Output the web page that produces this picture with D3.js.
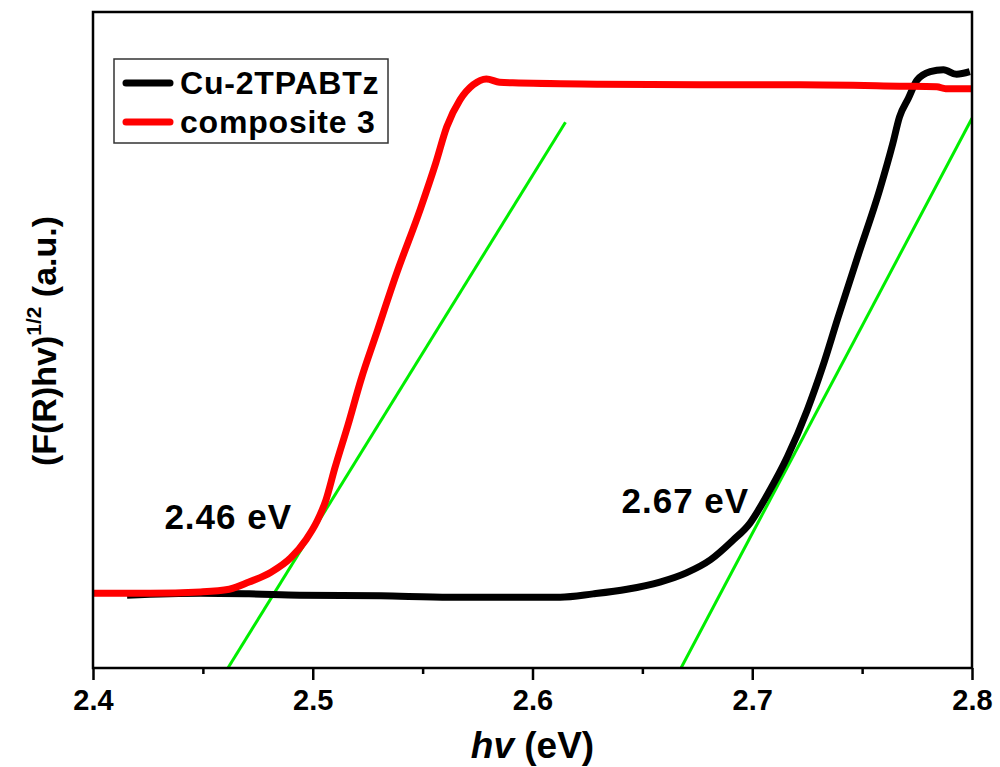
<!DOCTYPE html>
<html><head><meta charset="utf-8">
<script src="https://cdn.jsdelivr.net/npm/d3@7/dist/d3.min.js"></script>
<style>body{margin:0;background:#fff}svg{display:block}text{font-family:Arial,"Liberation Sans",sans-serif;font-weight:bold;fill:#000}</style>
</head><body><svg id="c" width="1000" height="767"></svg>
<script>
// Data (hv in eV, intensity in arbitrary units)
const cuHv  = [2.4155,2.449,2.471,2.494,2.531,2.5625,2.6126,2.6276,2.643,2.658,2.670,2.681,2.691,2.699,2.707,2.716,2.725,2.732,2.739,2.748,2.758,2.764,2.767,2.771,2.775,2.781,2.787,2.793,2.799];
const cuVal = [11.1,11.4,11.3,11.1,11.0,10.8,10.8,11.3,12.0,13.1,14.5,16.5,19.4,22.1,26.5,32.2,39.3,45.9,53.4,62.7,72.9,80.0,84.0,86.8,89.6,90.9,91.2,90.5,90.9];
const compHv  = [2.400,2.426,2.449,2.462,2.471,2.481,2.490,2.497,2.502,2.506,2.510,2.516,2.522,2.529,2.538,2.549,2.556,2.561,2.567,2.573,2.579,2.585,2.591,2.631,2.676,2.722,2.767,2.784,2.788,2.800];
const compVal = [11.4,11.4,11.6,12.0,13.1,14.6,16.8,19.6,22.4,25.6,30.4,37.0,44.0,51.0,60.0,70.0,77.0,82.5,86.6,88.9,89.8,89.3,89.2,89.0,88.9,88.9,88.7,88.6,88.3,88.3];
const fitLeftHv = [2.4614,2.615];
const fitLeftVal = [0,83.2];
const fitRightHv = [2.6676,2.800];
const fitRightVal = [0,83.8];
const xTicks = [2.4,2.5,2.6,2.7,2.8];
const xMinorTicks = [2.45,2.55,2.65,2.75];
const seriesNames = ["Cu-2TPABTz","composite 3"];
const seriesColors = ["#000000","#ff0000"];
const annotations = [{text:"2.46 eV", hv:2.4325, val:21.2},{text:"2.67 eV", hv:2.6405, val:23.6}];

const svg = d3.select("#c");
const L=93,R=972,T=12,B=668;
const x = d3.scaleLinear().domain([2.4,2.8]).range([L,R]);
const y = d3.scaleLinear().domain([0,100]).range([B,T]);

svg.append("clipPath").attr("id","pc").append("rect").attr("x",L).attr("y",T).attr("width",R-L).attr("height",B-T);

const line = d3.line().x(d=>x(d[0])).y(d=>y(d[1])).curve(d3.curveMonotoneX);
const lineStraight = d3.line().x(d=>x(d[0])).y(d=>y(d[1]));

const plot = svg.append("g").attr("clip-path","url(#pc)");
plot.append("path").datum(fitLeftHv.map((h,i)=>[h,fitLeftVal[i]])).attr("d",lineStraight).attr("fill","none").attr("stroke","#00ee00").attr("stroke-width",3);
plot.append("path").datum(fitRightHv.map((h,i)=>[h,fitRightVal[i]])).attr("d",lineStraight).attr("fill","none").attr("stroke","#00ee00").attr("stroke-width",3);
plot.append("path").datum(cuHv.map((h,i)=>[h,cuVal[i]])).attr("d",line).attr("fill","none").attr("stroke",seriesColors[0]).attr("stroke-width",7).attr("stroke-linejoin","round");
plot.append("path").datum(compHv.map((h,i)=>[h,compVal[i]])).attr("d",line).attr("fill","none").attr("stroke",seriesColors[1]).attr("stroke-width",7).attr("stroke-linejoin","round");

// frame
svg.append("rect").attr("x",L).attr("y",T).attr("width",R-L).attr("height",B-T).attr("fill","none").attr("stroke","#000").attr("stroke-width",2.5);

// x axis
const xa = svg.append("g").attr("transform",`translate(0,${B})`)
  .call(d3.axisBottom(x).tickValues(xTicks).tickFormat(d3.format(".1f")).tickSize(12).tickPadding(9));
xa.select(".domain").remove();
xa.selectAll(".tick line").attr("stroke","#000").attr("stroke-width",2.5);
xa.selectAll(".tick text").attr("font-size",29).attr("font-weight","bold").attr("font-family","Arial, 'Liberation Sans', sans-serif").attr("fill","#000");
const xm = svg.append("g").attr("transform",`translate(0,${B})`)
  .call(d3.axisBottom(x).tickValues(xMinorTicks).tickFormat("").tickSize(6));
xm.select(".domain").remove();
xm.selectAll(".tick line").attr("stroke","#000").attr("stroke-width",2.5);

// x title
const xt = svg.append("text").attr("x",(L+R)/2).attr("y",758).attr("text-anchor","middle").attr("font-size",37);
xt.append("tspan").attr("font-style","italic").text("hv");
xt.append("tspan").text(" (eV)");

// y title
const yt = svg.append("text").attr("transform","translate(56,341) rotate(-90)").attr("text-anchor","middle").attr("font-size",34);
yt.append("tspan").text("(F(R)hv)");
yt.append("tspan").attr("font-size",21).attr("dy",-15).text("1/2");
yt.append("tspan").attr("dy",15).text(" (a.u.)");

// legend
svg.append("rect").attr("x",114).attr("y",59).attr("width",274).attr("height",84).attr("fill","#fff").attr("stroke","#333").attr("stroke-width",1.5);
seriesNames.forEach((n,i)=>{
  const yy = 83 + i*39;
  svg.append("line").attr("x1",126).attr("x2",170).attr("y1",yy).attr("y2",yy).attr("stroke",seriesColors[i]).attr("stroke-width",7).attr("stroke-linecap","round");
  svg.append("text").attr("x",180).attr("y",yy+11).attr("font-size",32).attr("letter-spacing",0.8).text(n);
});

// annotations
annotations.forEach(a=>{
  svg.append("text").attr("x",x(a.hv)).attr("y",y(a.val)).attr("font-size",35).attr("letter-spacing",1).text(a.text);
});
</script></body></html>
